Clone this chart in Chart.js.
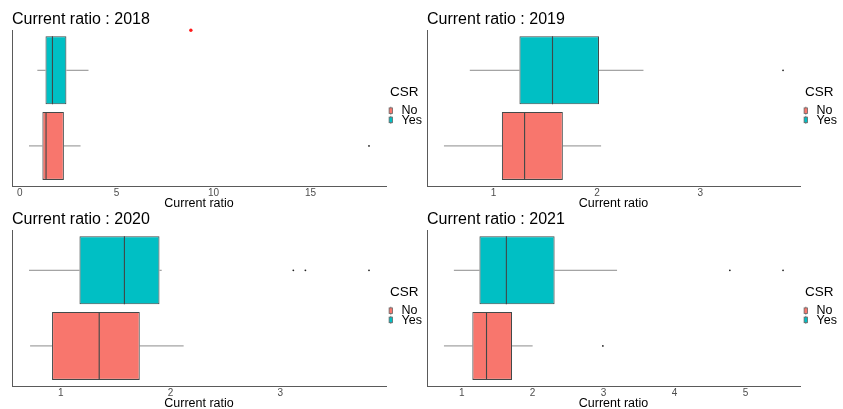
<!DOCTYPE html>
<html>
<head>
<meta charset="utf-8">
<script src="https://cdn.jsdelivr.net/npm/chart.js@4.4.1/dist/chart.umd.min.js"></script>
<style>
  html, body { margin: 0; padding: 0; background: #fff; width: 843px; height: 409px; overflow: hidden; }
  .panel { position: absolute; }
</style>
</head>
<body>
<div class="panel" style="left:0px;top:0px;width:430px;height:216px"><canvas id="c2018"></canvas></div>
<div class="panel" style="left:420px;top:0px;width:423px;height:216px"><canvas id="c2019"></canvas></div>
<div class="panel" style="left:0px;top:200px;width:430px;height:216px"><canvas id="c2020"></canvas></div>
<div class="panel" style="left:420px;top:200px;width:423px;height:216px"><canvas id="c2021"></canvas></div>
<script>
// Groups on the vertical axis (bottom to top) and the years shown
const groups = ['No', 'Yes'];
const groupPos = [1, 2];
const years = ['2018', '2019', '2020', '2021'];

// Box summaries: [lower whisker, Q1, median, Q3, upper whisker]
const stats2018No  = [0.48, 1.17, 1.36, 2.28, 3.14];
const stats2018Yes = [0.91, 1.33, 1.69, 2.41, 3.55];
const stats2019No  = [0.52, 1.08, 1.30, 1.67, 2.04];
const stats2019Yes = [0.77, 1.25, 1.57, 2.02, 2.45];
const stats2020No  = [0.72, 0.92, 1.35, 1.72, 2.12];
const stats2020Yes = [0.71, 1.17, 1.58, 1.90, 1.92];
const stats2021No  = [0.75, 1.15, 1.35, 1.71, 2.00];
const stats2021Yes = [0.89, 1.25, 1.63, 2.31, 3.19];

// Outlying observations
const outliers2018No  = [18.02];
const outliers2018Yes = [];
const outliers2019No  = [];
const outliers2019Yes = [3.80];
const outliers2020No  = [];
const outliers2020Yes = [3.12, 3.23, 3.81];
const outliers2021No  = [2.99];
const outliers2021Yes = [4.78, 5.53];

// Stray red marker at the top edge of the 2018 panel
const marker2018 = [8.83];

// Tick labels on the x axis
const ticks2018 = [0, 5, 10, 15];
const ticks2019 = [1, 2, 3];
const ticks2020 = [1, 2, 3];
const ticks2021 = [1, 2, 3, 4, 5];

const FONT = '"Liberation Sans", Arial, Helvetica, sans-serif';
const FILL = { No: '#F8766D', Yes: '#00BFC4' };
const Y_MIN = 0.47, Y_MAX = 2.53;

const panels = [
  { id: 'c2018', year: years[0], stats: [stats2018No, stats2018Yes], outliers: [outliers2018No, outliers2018Yes], ticks: ticks2018, marker: marker2018, padL: 12, padR: 44, gap: 4 },
  { id: 'c2019', year: years[1], stats: [stats2019No, stats2019Yes], outliers: [outliers2019No, outliers2019Yes], ticks: ticks2019, marker: null, padL: 7, padR: 43, gap: 5 },
  { id: 'c2020', year: years[2], stats: [stats2020No, stats2020Yes], outliers: [outliers2020No, outliers2020Yes], ticks: ticks2020, marker: null, padL: 12, padR: 44, gap: 4 },
  { id: 'c2021', year: years[3], stats: [stats2021No, stats2021Yes], outliers: [outliers2021No, outliers2021Yes], ticks: ticks2021, marker: null, padL: 7, padR: 43, gap: 5 }
];

// Legend drawn to the right of the plotting area
const csrLegend = {
  id: 'csrLegend',
  afterDraw(chart, args, opts) {
    const { ctx, chartArea } = chart;
    const x0 = chartArea.right + opts.gap;
    const cy = (chartArea.top + chartArea.bottom) / 2;
    ctx.save();
    ctx.textBaseline = 'middle';
    ctx.textAlign = 'left';
    ctx.fillStyle = '#000';
    ctx.font = '13.5px ' + FONT;
    ctx.fillText(opts.title, x0, cy - 15.7);
    ctx.font = '12.5px ' + FONT;
    opts.labels.forEach((lab, i) => {
      const ky = cy + 2.6 + i * 9.2;
      const kx = x0 + 0.8;
      ctx.strokeStyle = '#666';
      ctx.lineWidth = 0.8;
      ctx.beginPath();
      ctx.moveTo(kx, ky - 4);
      ctx.lineTo(kx, ky + 4);
      ctx.stroke();
      ctx.fillStyle = FILL[lab];
      ctx.fillRect(kx - 1.7, ky - 2.8, 3.4, 5.6);
      ctx.strokeRect(kx - 1.7, ky - 2.8, 3.4, 5.6);
      ctx.fillStyle = '#000';
      ctx.fillText(lab, x0 + 11.5, ky + 0.3);
    });
    ctx.restore();
  }
};

function xRange(p) {
  const vals = [];
  p.stats.forEach(s => { vals.push(s[0], s[4]); });
  p.outliers.forEach(o => vals.push(...o));
  const lo = Math.min(...vals), hi = Math.max(...vals);
  const pad = (hi - lo) * 0.05;
  return [lo - pad, hi + pad];
}

function buildDatasets(p) {
  const ds = [];
  p.stats.forEach((s, i) => {
    const y = groupPos[i];
    ds.push({ type: 'line', data: [{ x: s[0], y }, { x: s[1], y }], borderColor: '#8c8c8c', borderWidth: 1, pointRadius: 0, order: 4 });
    ds.push({ type: 'line', data: [{ x: s[3], y }, { x: s[4], y }], borderColor: '#8c8c8c', borderWidth: 1, pointRadius: 0, order: 4 });
    ds.push({ type: 'line', data: [{ x: s[2], y: y - 0.45 }, { x: s[2], y: y + 0.45 }], borderColor: '#3f4848', borderWidth: 1.1, pointRadius: 0, order: 1 });
  });
  ds.push({
    type: 'bar', indexAxis: 'y',
    data: p.stats.map((s, i) => ({ x: [s[1], s[3]], y: groupPos[i] })),
    backgroundColor: groups.map(g => FILL[g]),
    borderColor: '#424a4a', borderWidth: 1.1, borderSkipped: false,
    barPercentage: 0.9, categoryPercentage: 1, order: 2
  });
  const pts = [];
  p.outliers.forEach((o, i) => o.forEach(v => pts.push({ x: v, y: groupPos[i] })));
  ds.push({ type: 'scatter', data: pts, pointRadius: 0.9, pointBackgroundColor: '#222', pointBorderWidth: 0, order: 0 });
  if (p.marker) {
    ds.push({ type: 'scatter', data: p.marker.map(v => ({ x: v, y: Y_MAX })), pointRadius: 1.7, pointBackgroundColor: '#ff1a1a', pointBorderWidth: 0, clip: false, order: 0 });
  }
  return ds;
}

panels.forEach(p => {
  const [xmin, xmax] = xRange(p);
  new Chart(document.getElementById(p.id), {
    type: 'bar',
    data: { datasets: buildDatasets(p) },
    options: {
      responsive: true,
      maintainAspectRatio: false,
      animation: false,
      events: [],
      layout: { padding: { left: p.padL, right: p.padR, top: 0, bottom: 0 } },
      plugins: {
        legend: { display: false },
        tooltip: { enabled: false },
        title: {
          display: true, text: 'Current ratio : ' + p.year, align: 'start', color: '#000',
          font: { family: FONT, size: 16, weight: 'normal' }, padding: { top: 10, bottom: 1 }
        },
        csrLegend: { title: 'CSR', labels: groups.slice(), gap: p.gap }
      },
      scales: {
        x: {
          type: 'linear', position: 'bottom', min: xmin, max: xmax, offset: false,
          afterBuildTicks: s => { s.ticks = p.ticks.map(v => ({ value: v })); },
          afterFit: s => { s.height = 30; },
          grid: { display: false, drawTicks: false, offset: false },
          border: { display: true, color: '#5a5a5a', width: 1 },
          ticks: { color: '#4d4d4d', font: { family: FONT, size: 10 }, padding: 1, maxRotation: 0 },
          title: { display: true, text: 'Current ratio', color: '#000', font: { family: FONT, size: 12.5 }, padding: { top: 0, bottom: 5 } }
        },
        y: {
          type: 'linear', position: 'left', min: Y_MIN, max: Y_MAX, offset: false,
          afterBuildTicks: s => { s.ticks = groupPos.map(v => ({ value: v })); },
          afterFit: s => { s.width = 0; },
          grid: { display: false, drawTicks: false, offset: false },
          border: { display: true, color: '#5a5a5a', width: 1 },
          ticks: { display: false }
        }
      }
    },
    plugins: [csrLegend]
  });
});
</script>
</body>
</html>
